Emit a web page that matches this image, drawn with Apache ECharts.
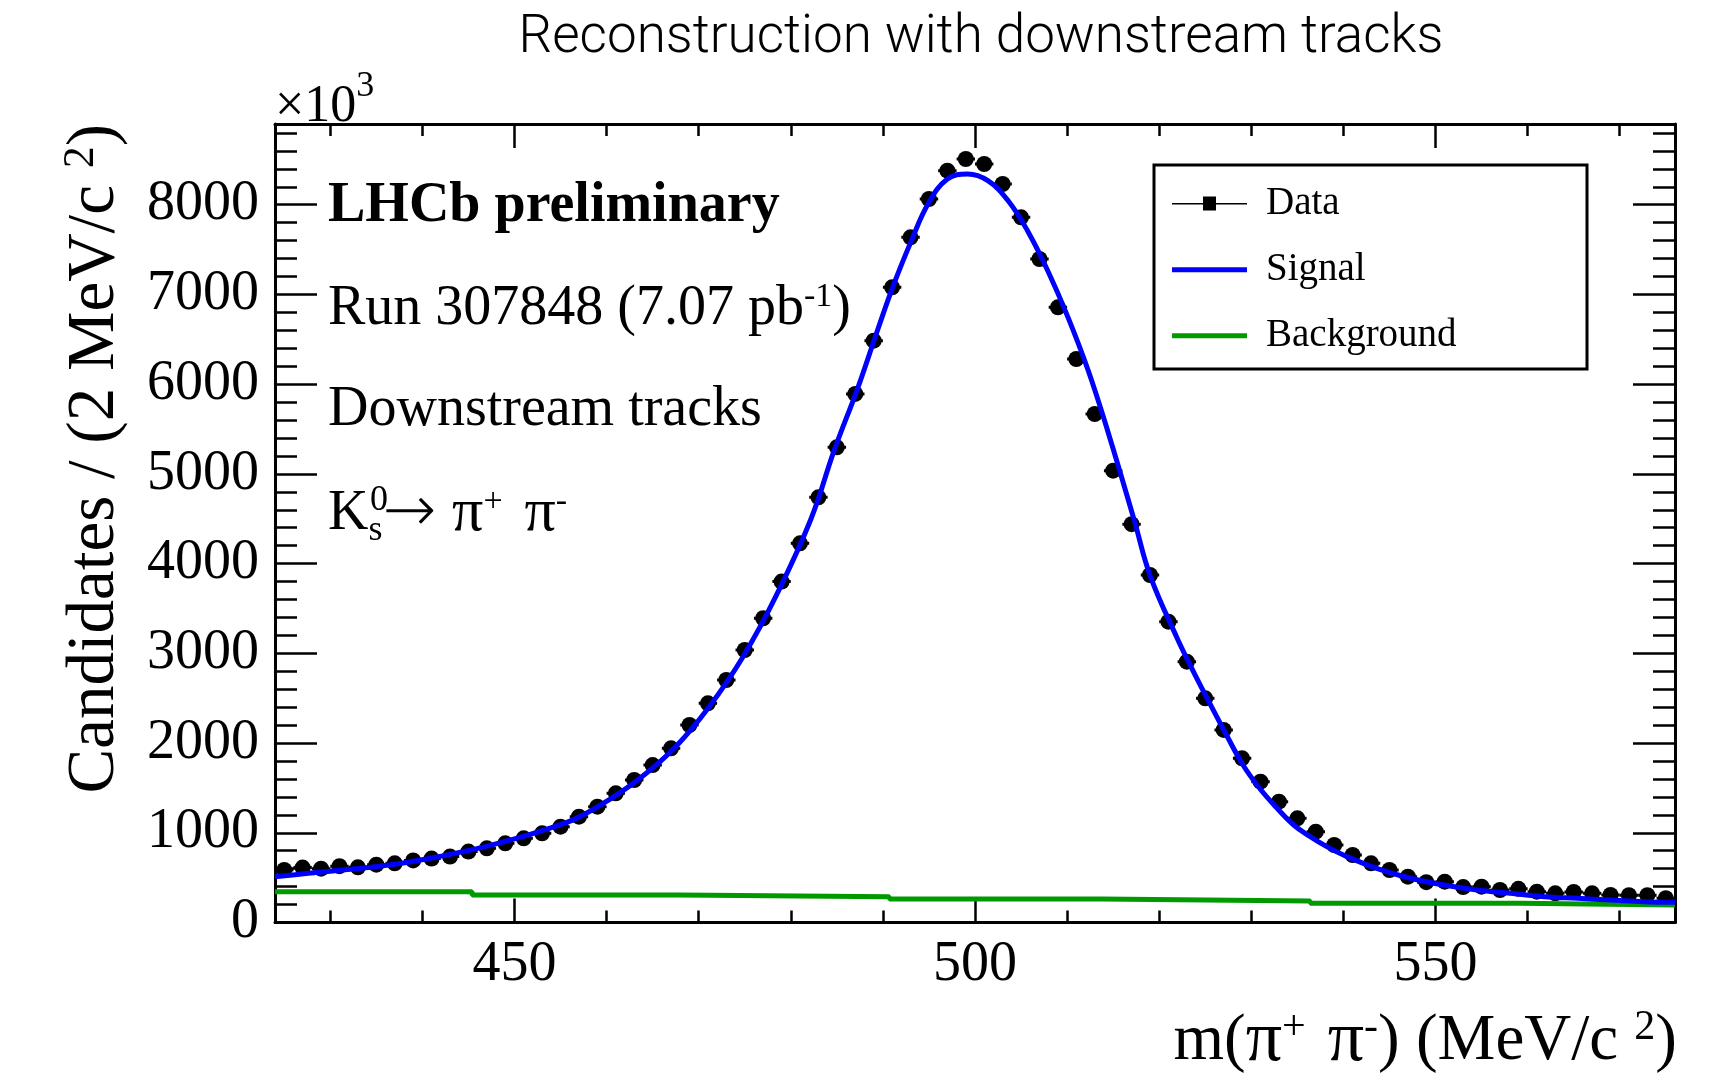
<!DOCTYPE html>
<html>
<head>
<meta charset="utf-8">
<script src="https://cdn.jsdelivr.net/npm/echarts@6/dist/echarts.min.js"></script>
<style>html,body{margin:0;padding:0;background:#fff}#c{width:1726px;height:1073px}</style>
</head>
<body>
<div id="c"></div>
<script>
// ---- data ----
const binCenters = [425,427,429,431,433,435,437,439,441,443,445,447,449,451,453,455,457,459,461,463,465,467,469,471,473,475,477,479,481,483,485,487,489,491,493,495,497,499,501,503,505,507,509,511,513,515,517,519,521,523,525,527,529,531,533,535,537,539,541,543,545,547,549,551,553,555,557,559,561,563,565,567,569,571,573,575];
const dataCounts = [585,612,600,628,615,645,660,692,712,735,790,827,882,938,994,1068,1180,1291,1440,1588,1755,1941,2201,2443,2703,3037,3391,3800,4226,4739,5296,5891,6485,7080,7637,8064,8380,8510,8454,8231,7860,7395,6857,6281,5668,5036,4440,3873,3353,2907,2499,2146,1830,1570,1347,1161,1012,864,752,660,585,511,450,455,395,399,362,375,344,325,340,325,307,305,305,270];
const signalMass = [424,427.6,431.3,434.9,438.5,442.1,445.8,449.4,453.0,456.6,460.3,463.9,467.5,471.1,474.8,478.4,482.2,484.7,487.3,489.4,491.2,493.1,494.9,497.0,499.2,501.4,503.6,505.7,507.9,510.1,512.3,514.4,517.3,519.0,521.9,523.7,525.5,527.3,529.1,530.9,532.8,534.6,536.4,538.2,540.0,543.6,547.3,550.9,554.5,558.1,561.8,565.4,569.0,572.6,576.0];
const signalFit = [511,548,585,622,672,740,820,915,1025,1155,1370,1630,1960,2400,2960,3640,4500,5259,5965,6596,7117,7600,8008,8287,8343,8268,8045,7711,7265,6745,6150,5482,4479,3870,3180,2800,2440,2090,1755,1496,1273,1087,957,845,752,604,493,418,362,325,288,269,251,232,225];
const bkgMass = [424,445.4,467.9,490.7,513.7,536.4,559.2,576];
const bkgFit = [344,307,288,262,240,214,195,195];
const xMajorTicks = [450,500,550];
const xMinorTicks = [430,440,460,470,480,490,510,520,530,540,560,570];
const yMajorTicks = [0,1000,2000,3000,4000,5000,6000,7000,8000];
const yMinorTicks = [200,400,600,800,1200,1400,1600,1800,2200,2400,2600,2800,3200,3400,3600,3800,4200,4400,4600,4800,5200,5400,5600,5800,6200,6400,6600,6800,7200,7400,7600,7800,8200,8400,8600,8800];
const binWidth = 2;
const xRange = [424, 576];
const yRange = [0, 8900];

// ---- styling ----
const SERIF = '"Liberation Serif","Times New Roman",serif';
const BLACK = '#000';
const BLUE = '#0000ff';
const GREEN = '#009a00';

function xAx(extra) {
  return Object.assign({
    type: 'value', min: xRange[0], max: xRange[1], gridIndex: 0,
    splitLine: {show: false},
    axisLine: {show: false, onZero: false, lineStyle: {color: BLACK, width: 3}},
    axisTick: {show: false},
    axisLabel: {show: false},
    axisPointer: {show: false}
  }, extra);
}
function yAx(extra) {
  return Object.assign({
    type: 'value', min: yRange[0], max: yRange[1], gridIndex: 0,
    splitLine: {show: false},
    axisLine: {show: false, onZero: false, lineStyle: {color: BLACK, width: 3}},
    axisTick: {show: false},
    axisLabel: {show: false},
    axisPointer: {show: false}
  }, extra);
}
const tickStyle = {color: BLACK, width: 2.5};
const frameLine = {show: true, onZero: false, lineStyle: {color: BLACK, width: 3}};

const chart = echarts.init(document.getElementById('c'), null, {renderer: 'canvas'});
chart.setOption({
  animation: false,
  backgroundColor: '#fff',
  title: {
    text: 'Reconstruction with downstream tracks',
    left: 981, top: 12, textAlign: 'center', padding: 0,
    textStyle: {fontFamily: 'Roboto, "Liberation Sans", sans-serif', fontWeight: 300, fontSize: 53, color: BLACK}
  },
  grid: {left: 275, right: 51, top: 124, bottom: 150.5, containLabel: false, outerBoundsMode: 'none'},
  xAxis: [
    xAx({position: 'bottom',
      axisLine: frameLine,
      axisTick: {show: true, inside: true, length: 24, customValues: xMajorTicks, lineStyle: tickStyle},
      axisLabel: {show: true, customValues: xMajorTicks, margin: 15, fontFamily: SERIF, fontSize: 56, color: BLACK,
        formatter: v => String(v)}
    }),
    xAx({position: 'bottom', axisTick: {show: true, inside: true, length: 12, customValues: xMinorTicks, lineStyle: tickStyle}}),
    xAx({position: 'top',
      axisLine: frameLine,
      axisTick: {show: true, inside: true, length: 24, customValues: xMajorTicks, lineStyle: tickStyle}
    }),
    xAx({position: 'top', axisTick: {show: true, inside: true, length: 12, customValues: xMinorTicks, lineStyle: tickStyle}}),
    xAx({position: 'bottom', offset: 119,
      name: 'm({pi|π}{sp|+}{g|π}{sp|-}) (MeV/c {sp|2})', nameLocation: 'end', nameGap: 2,
      nameTextStyle: {fontFamily: SERIF, fontSize: 65, color: BLACK, align: 'right', verticalAlign: 'middle',
        rich: {
          sp: {fontFamily: SERIF, fontSize: 42, lineHeight: 42, padding: [0, 0, 28, 0], color: BLACK},
          pi: {fontFamily: SERIF, fontSize: 72, color: BLACK},
          g: {fontFamily: SERIF, fontSize: 72, color: BLACK, padding: [0, 0, 0, 22]}
        }}
    })
  ],
  yAxis: [
    yAx({position: 'left',
      axisLine: frameLine,
      axisTick: {show: true, inside: true, length: 42, customValues: yMajorTicks, lineStyle: tickStyle},
      axisLabel: {show: true, customValues: yMajorTicks, margin: 16, fontFamily: SERIF, fontSize: 56, color: BLACK,
        formatter: v => String(v)},
      name: '×10{sp|3}', nameLocation: 'end', nameGap: -9,
      nameTextStyle: {fontFamily: SERIF, fontSize: 52, color: BLACK, align: 'left', verticalAlign: 'bottom',
        rich: {sp: {fontFamily: SERIF, fontSize: 36, lineHeight: 36, padding: [0, 0, 40, 0], color: BLACK}}}
    }),
    yAx({position: 'left', axisTick: {show: true, inside: true, length: 22, customValues: yMinorTicks, lineStyle: tickStyle}}),
    yAx({position: 'right',
      axisLine: frameLine,
      axisTick: {show: true, inside: true, length: 42, customValues: yMajorTicks, lineStyle: tickStyle}
    }),
    yAx({position: 'right', axisTick: {show: true, inside: true, length: 22, customValues: yMinorTicks, lineStyle: tickStyle}}),
    yAx({position: 'left', offset: 180,
      name: 'Candidates / (2 MeV/c {sp|2})', nameLocation: 'end', nameGap: 0, nameRotate: 90,
      nameTextStyle: {fontFamily: SERIF, fontSize: 67, color: BLACK, align: 'right', verticalAlign: 'middle',
        rich: {sp: {fontFamily: SERIF, fontSize: 44, lineHeight: 44, padding: [0, 0, 28, 0], color: BLACK}}}
    })
  ],
  legend: [
    {data: [{name: 'Data', icon: 'path://M0,6.5 L75,6.5 L75,8 L0,8 Z M31,0 L44,0 L44,14 L31,14 Z', itemStyle: {color: BLACK}}],
     left: 1172, top: 183.6, padding: 0, itemWidth: 75, itemHeight: 14, symbolKeepAspect: false, selectedMode: false,
     textStyle: {fontFamily: SERIF, fontSize: 39, lineHeight: 40, color: BLACK, padding: [0, 0, 0, 14]}},
    {data: [{name: 'Signal', icon: 'rect', itemStyle: {color: BLUE}}],
     left: 1172, top: 249.7, padding: 0, itemWidth: 75, itemHeight: 5, symbolKeepAspect: false, selectedMode: false,
     textStyle: {fontFamily: SERIF, fontSize: 39, lineHeight: 40, color: BLACK, padding: [0, 0, 0, 14]}},
    {data: [{name: 'Background', icon: 'rect', itemStyle: {color: GREEN}}],
     left: 1172, top: 315.7, padding: 0, itemWidth: 75, itemHeight: 5, symbolKeepAspect: false, selectedMode: false,
     textStyle: {fontFamily: SERIF, fontSize: 39, lineHeight: 40, color: BLACK, padding: [0, 0, 0, 14]}}
  ],
  graphic: [
    {type: 'rect', shape: {x: 1154, y: 165, width: 433, height: 204}, style: {fill: 'none', stroke: BLACK, lineWidth: 3}, silent: true, z: 10},
    {type: 'text', x: 328, y: 207, silent: true, z: 10,
     style: {text: 'LHCb preliminary', fontFamily: SERIF, fontSize: 56, fontWeight: 'bold', fill: BLACK, align: 'left', verticalAlign: 'middle', textAlign: 'left', textVerticalAlign: 'middle'}},
    {type: 'text', x: 328, y: 309, silent: true, z: 10,
     style: {text: 'Run 307848 (7.07 pb{sp|-1})', fontFamily: SERIF, fontSize: 56, fill: BLACK, align: 'left', verticalAlign: 'middle', textAlign: 'left', textVerticalAlign: 'middle',
       rich: {sp: {fontFamily: SERIF, fontSize: 34, lineHeight: 34, padding: [0, 0, 24, 0], fill: BLACK, color: BLACK}}}},
    {type: 'text', x: 328, y: 410, silent: true, z: 10,
     style: {text: 'Downstream tracks', fontFamily: SERIF, fontSize: 56, fill: BLACK, align: 'left', verticalAlign: 'middle', textAlign: 'left', textVerticalAlign: 'middle'}},
    {type: 'text', x: 328, y: 514, silent: true, z: 10,
     style: {text: 'K{sb|s}{ar|→}{g1|π}{sp|+}{g2|π}{sp|-}', fontFamily: SERIF, fontSize: 56, fill: BLACK, align: 'left', verticalAlign: 'middle', textAlign: 'left', textVerticalAlign: 'middle',
       rich: {
         sp: {fontFamily: SERIF, fontSize: 34, lineHeight: 34, padding: [0, 0, 24, 0], fill: BLACK, color: BLACK},
         sb: {fontFamily: SERIF, fontSize: 36, lineHeight: 36, padding: [34, 0, 0, 0], fill: BLACK, color: BLACK},
         ar: {fontFamily: '"DejaVu Sans", sans-serif', fontWeight: 200, fontSize: 64, lineHeight: 56, fill: BLACK, color: BLACK},
         g1: {fontFamily: SERIF, fontSize: 62, lineHeight: 56, padding: [0, 0, 0, 16], fill: BLACK, color: BLACK},
         g2: {fontFamily: SERIF, fontSize: 62, lineHeight: 56, padding: [0, 0, 0, 22], fill: BLACK, color: BLACK}
       }}},
    {type: 'text', x: 370, y: 501, silent: true, z: 10,
     style: {text: '0', fontFamily: SERIF, fontSize: 36, fill: BLACK, align: 'left', verticalAlign: 'middle', textAlign: 'left', textVerticalAlign: 'middle'}}
  ],
  series: [
    {
      name: 'Data', type: 'custom', xAxisIndex: 0, yAxisIndex: 0, clip: true,
      itemStyle: {color: BLACK},
      data: binCenters.map((m, i) => [m, dataCounts[i]]),
      encode: {x: 0, y: 1},
      renderItem: function (params, api) {
        const m = api.value(0), v = api.value(1);
        const c = api.coord([m, v]);
        const l = api.coord([m - binWidth / 2, v]);
        const r = api.coord([m + binWidth / 2, v]);
        return {type: 'group', children: [
          {type: 'line', shape: {x1: l[0], y1: c[1], x2: r[0], y2: c[1]}, style: {stroke: BLACK, lineWidth: 3}},
          {type: 'circle', shape: {cx: c[0], cy: c[1], r: 8}, style: {fill: BLACK}}
        ]};
      }
    },
    {
      name: 'Background', type: 'line', xAxisIndex: 0, yAxisIndex: 0, step: 'end',
      showSymbol: false, symbol: 'none', color: GREEN,
      lineStyle: {color: GREEN, width: 5},
      data: bkgMass.map((m, i) => [m, bkgFit[i]])
    },
    {
      name: 'Signal', type: 'line', xAxisIndex: 0, yAxisIndex: 0, smooth: 0.4,
      showSymbol: false, symbol: 'none', color: BLUE,
      lineStyle: {color: BLUE, width: 5},
      data: signalMass.map((m, i) => [m, signalFit[i]])
    }
  ]
});
</script>
</body>
</html>
